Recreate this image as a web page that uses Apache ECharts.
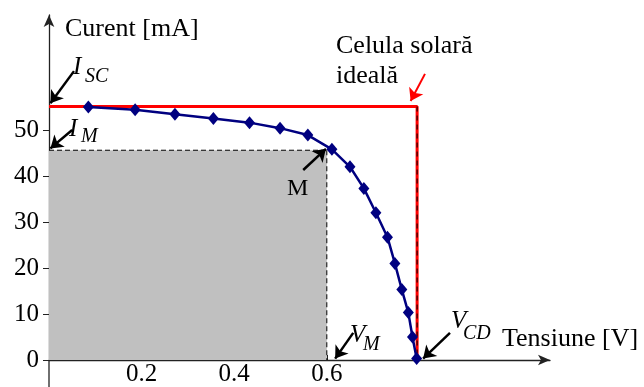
<!DOCTYPE html>
<html>
<head>
<meta charset="utf-8">
<script src="https://cdn.jsdelivr.net/npm/echarts@6/dist/echarts.min.js"></script>
<style>
html,body{margin:0;padding:0;background:#fff;}
#chart{width:644px;height:387px;}
</style>
</head>
<body>
<div id="chart"></div>
<script>
// Measured I-V curve of the solar cell
var voltage = [0.085, 0.186, 0.272, 0.355, 0.433, 0.499, 0.559, 0.611, 0.650, 0.680, 0.706, 0.731, 0.747, 0.762, 0.776, 0.785, 0.794];
var current = [55.0, 54.4, 53.4, 52.5, 51.6, 50.4, 48.9, 45.8, 42.0, 37.3, 32.0, 26.7, 21.0, 15.3, 10.3, 5.0, 0.3];
// Ideal cell and maximum power point
var isc = 55.1;
var voc = 0.795;
var vm = 0.6;
var im = 45.6;
// Axis ticks
var xTicks = [0.2, 0.4, 0.6];
var yTicks = [0, 10, 20, 30, 40, 50];

var serif = '"Liberation Serif", "DejaVu Serif", serif';
var curve = voltage.map(function (v, i) { return [v, current[i]]; });

function arrow(from, to, color) {
  return [{ coord: from, symbol: 'none' }, { coord: to, symbol: 'arrow', lineStyle: { color: color } }];
}
function txt(x, y, s, size, italic) {
  return { type: 'text', x: x, y: y, z: 100, style: { text: s, fill: '#000', fontSize: size, fontFamily: serif, fontStyle: italic ? 'italic' : 'normal', align: 'left', verticalAlign: 'middle' } };
}

var chart = echarts.init(document.getElementById('chart'));
chart.setOption({
  animation: false,
  backgroundColor: '#fff',
  grid: { left: 49, right: 94, top: 15, bottom: 27, containLabel: false, outerBoundsMode: 'none' },
  xAxis: {
    type: 'value', min: 0, max: 1.082,
    splitLine: { show: false },
    axisLine: { lineStyle: { color: '#222', width: 1.3 }, symbol: ['none', 'arrow'], symbolSize: [8, 12] },
    axisTick: { inside: true, length: 5, customValues: xTicks, lineStyle: { color: '#222' } },
    axisLabel: { customValues: xTicks, margin: 2, color: '#000', fontSize: 25, fontFamily: serif, formatter: function (v) { return v.toFixed(1); } }
  },
  yAxis: {
    type: 'value', min: 0, max: 75,
    splitLine: { show: false },
    axisLine: { lineStyle: { color: '#222', width: 1.3 }, symbol: ['none', 'arrow'], symbolSize: [8, 12] },
    axisTick: { inside: false, length: 6, customValues: yTicks, lineStyle: { color: '#222' } },
    axisLabel: { customValues: yTicks, margin: 10, color: '#000', fontSize: 25, fontFamily: serif }
  },
  series: [
    {
      type: 'line', name: 'Pmax area', data: [[0, im], [vm, im]], showSymbol: false, z: 1,
      lineStyle: { color: '#000', width: 1, type: [5, 3] },
      areaStyle: { color: '#c0c0c0', opacity: 1, origin: 'auto' }
    },
    {
      type: 'line', name: 'Vm', data: [[vm, im], [vm, 0]], showSymbol: false, z: 2,
      lineStyle: { color: '#000', width: 1, type: [5, 3] }
    },
    {
      type: 'line', name: 'Celula ideala', data: [[0, isc], [voc, isc], [voc, 0]], showSymbol: false, z: 3,
      lineStyle: { color: '#ff0000', width: 3 },
      markLine: {
        silent: true, symbolSize: 12, label: { show: false },
        lineStyle: { color: '#ff0000', width: 2, type: 'solid' },
        data: [arrow([0.812, 62.2], [0.781, 56.3], '#ff0000')]
      }
    },
    {
      type: 'line', name: 'ideal dash', data: [[voc, isc], [voc, 0]], showSymbol: false, z: 4,
      lineStyle: { color: '#000', width: 1, type: [5, 4] }
    },
    {
      type: 'line', name: 'I-V', data: curve, z: 5,
      symbol: 'diamond', symbolSize: [11, 13], showSymbol: true,
      lineStyle: { color: '#000080', width: 2.5 },
      itemStyle: { color: '#000080' },
      markLine: {
        silent: true, symbolSize: 12, label: { show: false },
        lineStyle: { color: '#000', width: 2.5, type: 'solid' },
        data: [
          arrow([0.054, 62.8], [0.003, 55.8], '#000'),
          arrow([0.050, 50.0], [0.003, 46.0], '#000'),
          arrow([0.549, 41.3], [0.598, 45.9], '#000'),
          arrow([0.657, 5.9], [0.618, 0.3], '#000'),
          arrow([0.866, 5.9], [0.808, 0.3], '#000')
        ]
      }
    }
  ],
  graphic: [
    { type: 'line', z: 50, shape: { x1: 49, y1: 360, x2: 49, y2: 387 }, style: { stroke: '#222', lineWidth: 1.3 } },
    txt(65, 29, 'Curent [mA]', 26, false),
    txt(336, 46, 'Celula solară', 26, false),
    txt(336, 76, 'ideală', 26, false),
    txt(502, 339, 'Tensiune [V]', 26, false),
    txt(287, 189, 'M', 24, false),
    txt(73, 67, 'I', 25, true),
    txt(85, 77, 'SC', 20, true),
    txt(69, 129, 'I', 25, true),
    txt(81, 137, 'M', 20, true),
    txt(350, 335, 'V', 25, true),
    txt(363, 345, 'M', 20, true),
    txt(451, 321, 'V', 25, true),
    txt(463, 334, 'CD', 20, true)
  ]
});
</script>
</body>
</html>
